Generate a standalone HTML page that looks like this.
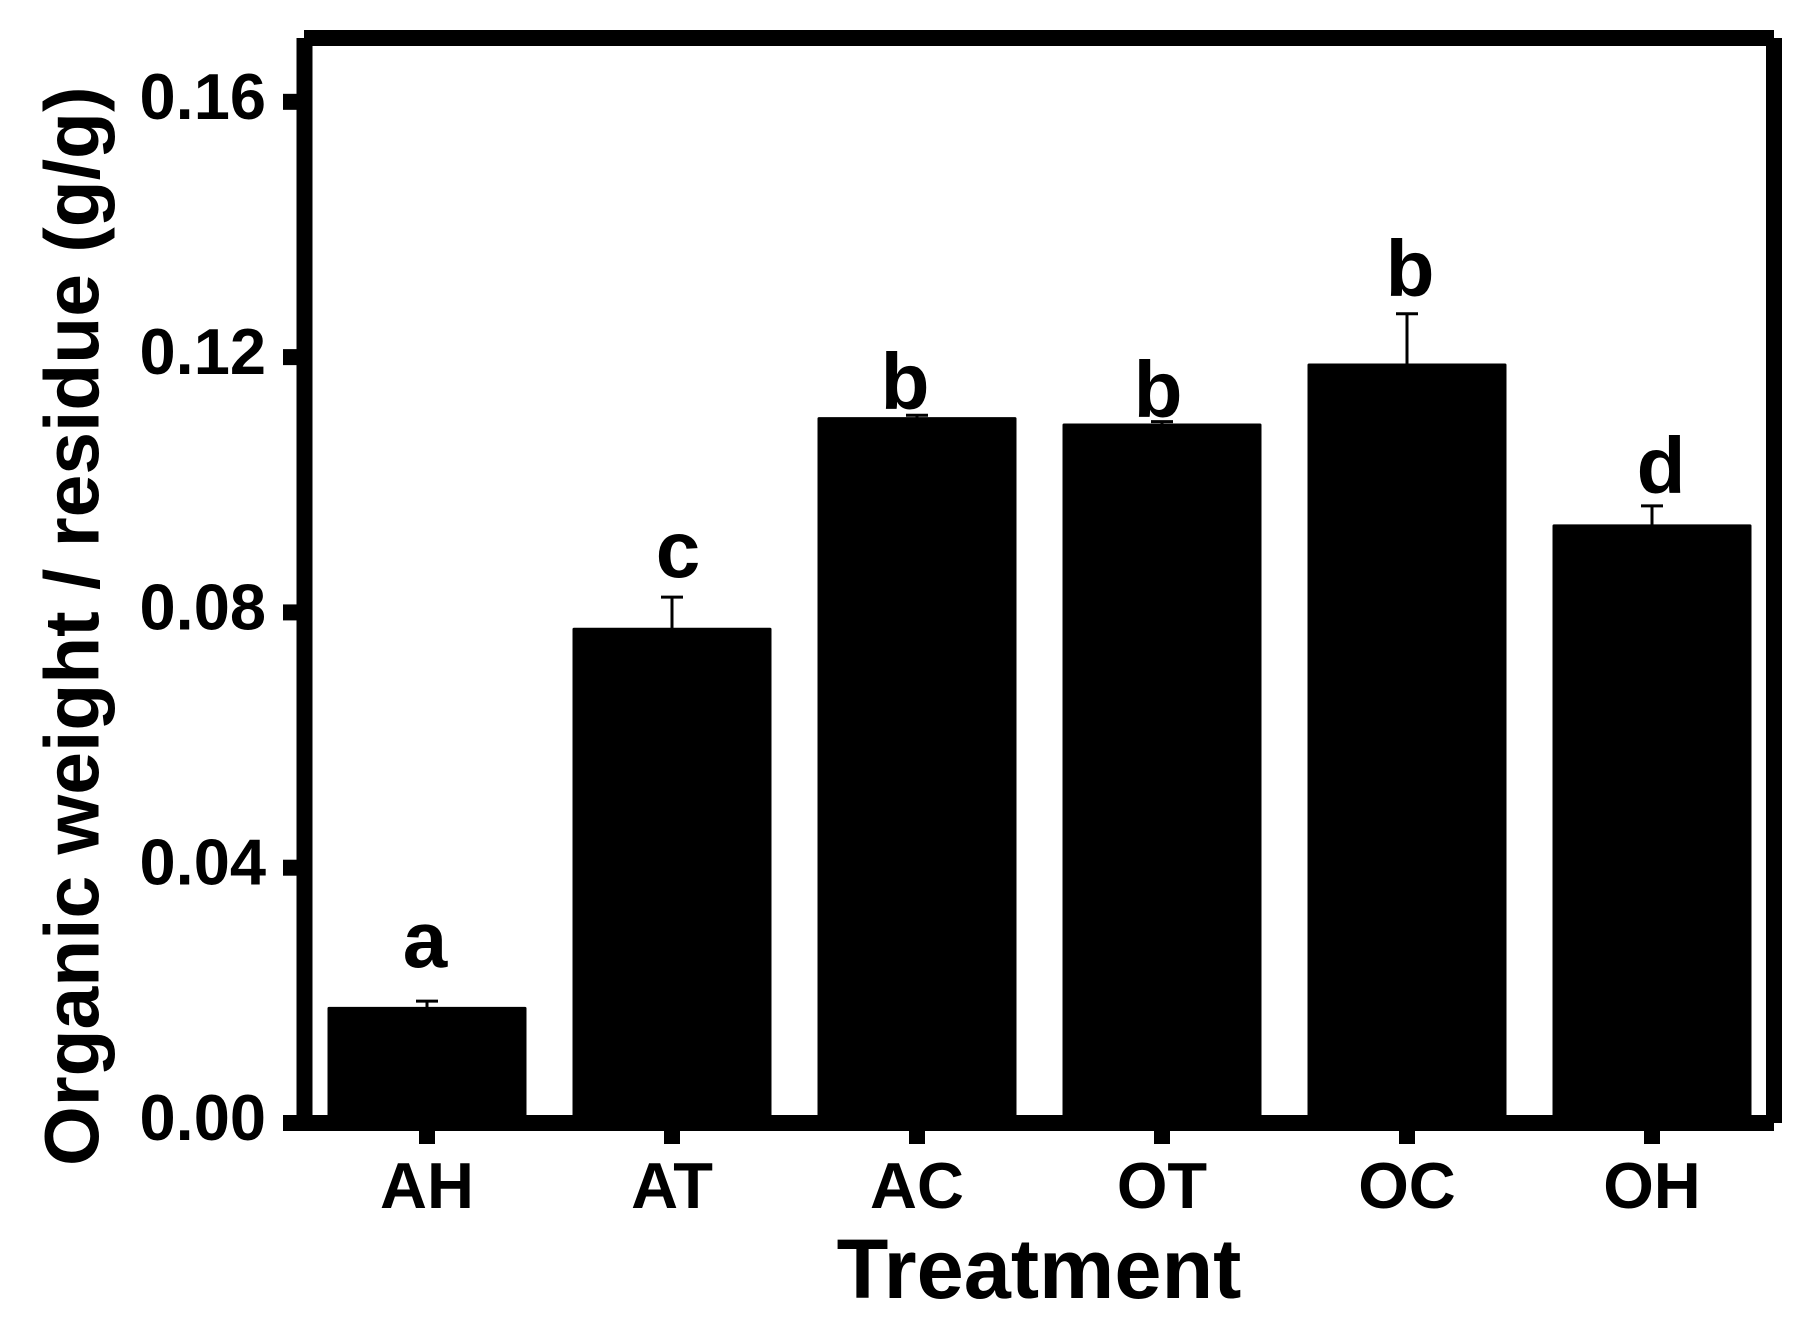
<!DOCTYPE html>
<html lang="en">
<head>
<meta charset="utf-8">
<title>Organic weight / residue by treatment</title>
<style>
  html, body { margin: 0; padding: 0; background: #fff; }
  body { width: 1819px; height: 1319px; overflow: hidden; }
  svg { display: block; }
  text { font-family: "Liberation Sans", Arial, sans-serif; font-weight: bold; fill: #000; }
  .tick-label { font-size: 65px; }
  .letter { font-size: 80px; text-anchor: middle; }
</style>
</head>
<body>
<svg id="chart" xmlns="http://www.w3.org/2000/svg" width="1819" height="1319" viewBox="0 0 1819 1319">
  <rect x="0" y="0" width="1819" height="1319" fill="#fff"/>
  <g id="bars"></g>
  <g id="errors"></g>
  <g id="y-axis"></g>
  <g id="x-axis"></g>
  <g stroke="#000" stroke-width="16">
    <line x1="304.5" y1="38" x2="304.5" y2="1131"/>
    <line x1="304" y1="38" x2="1774" y2="38"/>
    <line x1="1774" y1="38" x2="1774" y2="1123"/>
    <line x1="283" y1="1123" x2="1774" y2="1123"/>
  </g>
  <g>
    <text class="letter" x="425" y="967">a</text>
    <text class="letter" x="678" y="577">c</text>
    <text class="letter" x="905" y="409">b</text>
    <text class="letter" x="1158" y="417">b</text>
    <text class="letter" x="1410" y="296">b</text>
    <text class="letter" x="1661" y="493">d</text>
  </g>
  <text transform="translate(98.5 1166) rotate(-90)" font-size="76.8">Organic weight / residue (g/g)</text>
  <text x="1039" y="1298" font-size="84.7" text-anchor="middle">Treatment</text>
</svg>
<script>
const categories = ["AH", "AT", "AC", "OT", "OC", "OH"];
const organicRatio = [0.0182, 0.0776, 0.1106, 0.1096, 0.1190, 0.0938];
const errorUpper = [0.0009, 0.0048, 0.0003, 0.0003, 0.0078, 0.0029];
const yTickValues = [0, 0.04, 0.08, 0.12, 0.16];
const yTickLabels = ["0.00", "0.04", "0.08", "0.12", "0.16"];

const svgNS = "http://www.w3.org/2000/svg";
const yMax = 0.17;
const plotTop = 38;
const plotBottom = 1123;
const firstCenter = 427;
const bandStep = 245;
const barWidth = 199;
const capWidth = 22;

function yScale(v) {
  return plotBottom - (v / yMax) * (plotBottom - plotTop);
}
function xScale(i) {
  return firstCenter + i * bandStep;
}
function make(tag, attrs) {
  const el = document.createElementNS(svgNS, tag);
  Object.keys(attrs).forEach(function (k) { el.setAttribute(k, attrs[k]); });
  return el;
}

const barsGroup = document.getElementById("bars");
const errorsGroup = document.getElementById("errors");
const yAxisGroup = document.getElementById("y-axis");
const xAxisGroup = document.getElementById("x-axis");

categories.forEach(function (cat, i) {
  const key = cat.toLowerCase();
  const cx = xScale(i);
  const top = yScale(organicRatio[i]);
  const errTop = yScale(organicRatio[i] + errorUpper[i]);

  const bar = make("rect", { x: cx - barWidth / 2, y: top, width: barWidth, height: plotBottom - top, rx: 1.5, fill: "#000" });
  
  
  barsGroup.appendChild(bar);

  const stem = make("line", { x1: cx, y1: errTop, x2: cx, y2: top + 1, stroke: "#000", "stroke-width": 3 });
  
  
  errorsGroup.appendChild(stem);

  const cap = make("line", { x1: cx - capWidth / 2, y1: errTop, x2: cx + capWidth / 2, y2: errTop, stroke: "#000", "stroke-width": 3 });
  
  
  errorsGroup.appendChild(cap);

  const tick = make("rect", { x: cx - 8, y: 1125, width: 16, height: 19, fill: "#000" });
  
  
  xAxisGroup.appendChild(tick);

  const label = make("text", { x: cx, y: 1208, "text-anchor": "middle", "class": "tick-label" });
  
  
  label.textContent = cat;
  xAxisGroup.appendChild(label);
});

yTickValues.forEach(function (v, i) {
  const y = yScale(v);

  const tick = make("rect", { x: 283, y: y - 8, width: 20, height: 16, fill: "#000" });
  
  
  yAxisGroup.appendChild(tick);

  const label = make("text", { x: 266, y: y + 17, "text-anchor": "end", "class": "tick-label" });
  
  
  label.textContent = yTickLabels[i];
  yAxisGroup.appendChild(label);
});
</script>
</body>
</html>
